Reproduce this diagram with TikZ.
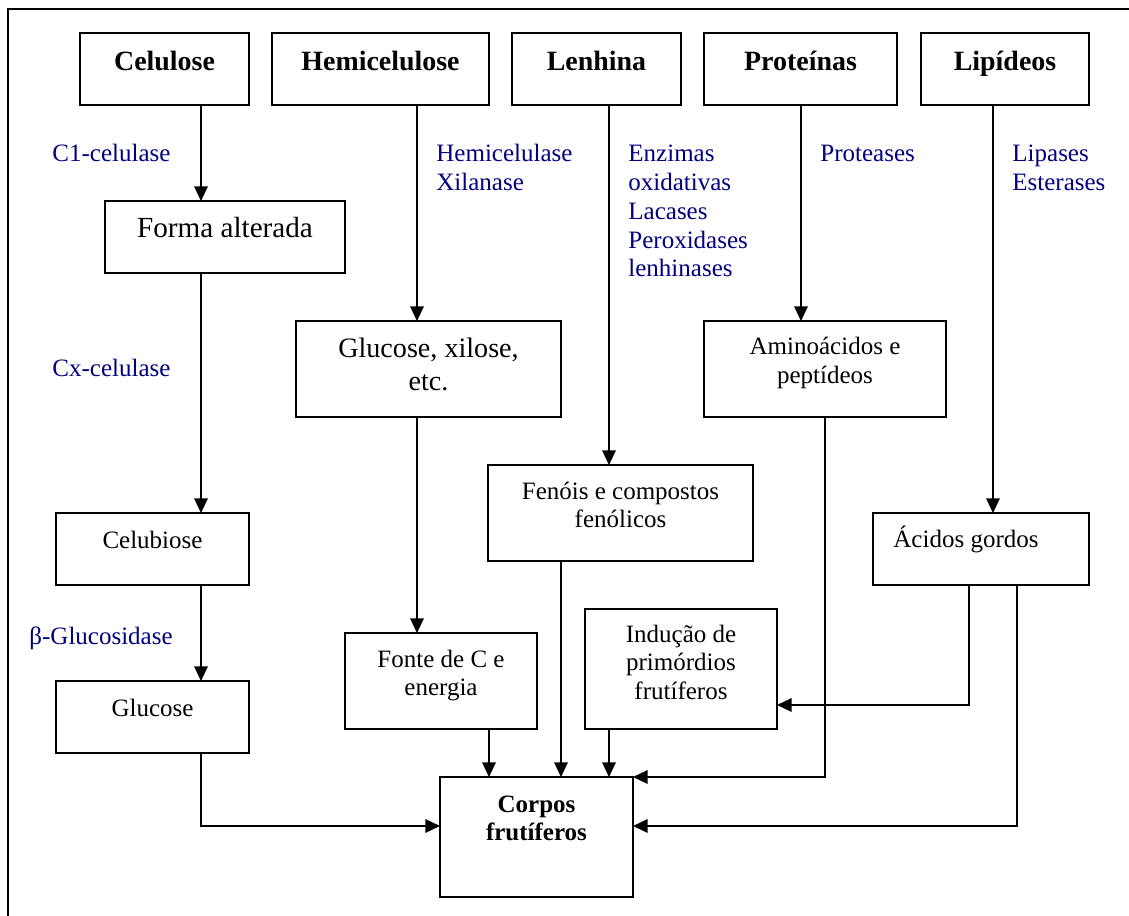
\documentclass[tikz,border=0pt]{standalone}
\usepackage{fontspec}
\setmainfont{Liberation Serif}
\usetikzlibrary{arrows.meta}
\definecolor{enz}{RGB}{0,0,128}
\newcommand\tb[2][c]{\begin{tabular}[t]{@{}#1@{}}#2\end{tabular}}
\newcommand\mybox[5]{\node[boxs, minimum width={(#4-#2)*0.48pt}, minimum height={(#5-#3)*0.48pt}] (#1) at ({(#2+#4)/2},{(#3+#5)/2}) {};}
\begin{document}
\begin{tikzpicture}[x=0.48pt,y=-0.48pt,
  boxs/.style={draw,line width=0.65pt,inner sep=0pt,outer sep=0pt,rectangle},
  arr/.style={line width=0.65pt,-{Triangle[length=7pt,width=6.5pt]}},
  ln/.style={line width=0.65pt},
  bold/.style={font=\fontsize{13.4}{15.4}\selectfont\bfseries, inner sep=0pt, anchor=base},
  boldsm/.style={font=\fontsize{12}{13.5}\selectfont\bfseries, inner sep=0pt, anchor=base},
  reg/.style={font=\fontsize{12}{13.8}\selectfont, inner sep=0pt, anchor=base},
  big/.style={font=\fontsize{14}{16.5}\selectfont, inner sep=0pt, anchor=base},
  mid/.style={font=\fontsize{13.5}{15.8}\selectfont, inner sep=0pt, anchor=base},
  enzl/.style={font=\fontsize{12}{13.8}\selectfont, text=enz, inner sep=0pt, anchor=base west}]
\useasboundingbox (0,0) rectangle (1129,916);
% frame
\coordinate (fTR) at (1129,9);
\coordinate (fTL) at (8,9);
\coordinate (fBL) at (8,916);
\draw[ln] (fTR) -- (fTL) -- (fBL);
% boxes
\mybox{cel}{80}{33}{249}{105}
\mybox{hemi}{272}{33}{489}{105}
\mybox{lenh}{512}{33}{681}{105}
\mybox{prot}{704}{33}{897}{105}
\mybox{lip}{921}{33}{1089}{105}
\mybox{forma}{105}{201}{345}{273}
\mybox{celub}{56}{513}{249}{585}
\mybox{gluc}{56}{681}{249}{753}
\mybox{gxil}{296}{321}{561}{417}
\mybox{amino}{704}{321}{946}{417}
\mybox{fen}{488}{465}{753}{561}
\mybox{fonte}{345}{633}{537}{729}
\mybox{induc}{585}{609}{777}{729}
\mybox{acid}{873}{513}{1089}{585}
\mybox{corpos}{440}{777}{633}{897}
% box texts
\node[bold] (celT) at (164.5,71) {Celulose};
\node[bold] (hemiT) at (380.5,71) {Hemicelulose};
\node[bold] (lenhT) at (596.5,71) {Lenhina};
\node[bold] (protT) at (800.5,71) {Proteínas};
\node[bold] (lipT) at (1005,71) {Lipídeos};
\node[big] (formaT) at (225,238) {Forma alterada};
\node[reg] (celubT) at (152.5,548) {Celubiose};
\node[reg] (glucT) at (152.5,716) {Glucose};
\node[mid] (gxilT) at (428.5,358) {\tb{Glucose, xilose,\\etc.}};
\node[reg] (aminoT) at (825,355) {\tb{Aminoácidos e\\peptídeos}};
\node[reg] (fenT) at (620.5,499) {\tb{Fenóis e compostos\\fenólicos}};
\node[reg] (fonteT) at (441,667) {\tb{Fonte de C e\\energia}};
\node[reg] (inducT) at (681,642) {\tb{Indução de\\primórdios\\frutíferos}};
\node[boldsm] (corposT) at (536.5,812) {\tb{Corpos\\frutíferos}};
\node[reg, anchor=base west] (acidT) at (893,547) {Ácidos gordos};
% enzyme labels
\node[enzl] (e1) at (52,162) {C1-celulase};
\node[enzl] (e2) at (52,377) {Cx-celulase};
\node[enzl] (e3) at (29,644) {β-Glucosidase};
\node[enzl] (e4) at (436,162) {\tb[l]{Hemicelulase\\Xilanase}};
\node[enzl] (e5) at (628,162) {\tb[l]{Enzimas\\oxidativas\\Lacases\\Peroxidases\\lenhinases}};
\node[enzl] (e6) at (820,162) {Proteases};
\node[enzl] (e7) at (1012,162) {\tb[l]{Lipases\\Esterases}};
% connector x / y guides
\coordinate (xa) at (201,0);
\coordinate (xb) at (417,0);
\coordinate (xc) at (489,0);
\coordinate (xd) at (609,0);
\coordinate (xe) at (561,0);
\coordinate (xf) at (801,0);
\coordinate (xg) at (825,0);
\coordinate (xh) at (993,0);
\coordinate (xi) at (969,0);
\coordinate (xj) at (1017,0);
\coordinate (yb) at (0,826);
\coordinate (yi) at (0,705);
% connectors
\draw[arr] (cel.south -| xa) -- (forma.north -| xa);
\draw[arr] (forma.south -| xa) -- (celub.north -| xa);
\draw[arr] (celub.south -| xa) -- (gluc.north -| xa);
\draw[arr] (gluc.south -| xa) |- (corpos.west |- yb);
\draw[arr] (hemi.south -| xb) -- (gxil.north -| xb);
\draw[arr] (gxil.south -| xb) -- (fonte.north -| xb);
\draw[arr] (fonte.south -| xc) -- (corpos.north -| xc);
\draw[arr] (lenh.south -| xd) -- (fen.north -| xd);
\draw[arr] (fen.south -| xe) -- (corpos.north -| xe);
\draw[arr] (induc.south -| xd) -- (corpos.north -| xd);
\draw[arr] (prot.south -| xf) -- (amino.north -| xf);
\draw[arr] (amino.south -| xg) |- (corpos.north east);
\draw[arr] (lip.south -| xh) -- (acid.north -| xh);
\draw[arr] (acid.south -| xi) |- (induc.east |- yi);
\draw[arr] (acid.south -| xj) |- (corpos.east |- yb);
\end{tikzpicture}
\end{document}
